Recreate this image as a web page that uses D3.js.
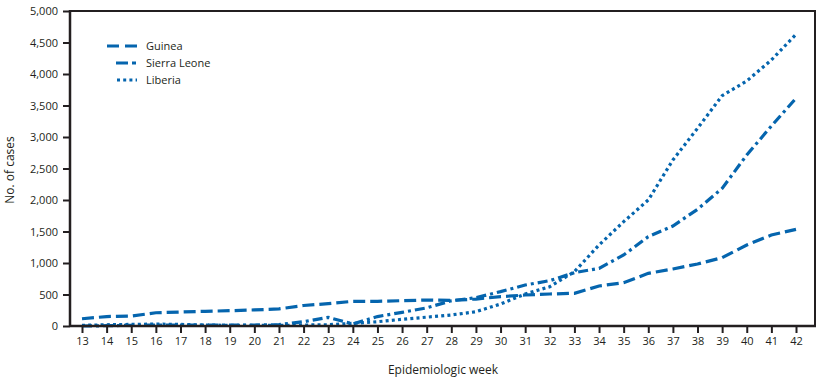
<!DOCTYPE html>
<html><head><meta charset="utf-8">
<script src="https://cdn.jsdelivr.net/npm/d3@7"></script>
<style>body{margin:0;background:#fff}svg{display:block}text{font-family:"Open Sans",sans-serif;fill:#231f20}</style>
</head><body><div id="chart"></div>
<script>
const weeks = [13,14,15,16,17,18,19,20,21,22,23,24,25,26,27,28,29,30,31,32,33,34,35,36,37,38,39,40,41,42];
const guinea = [115,150,158,210,222,233,243,255,272,325,355,392,392,402,413,405,428,466,492,508,519,635,688,836,905,984,1085,1286,1444,1534];
const sierraLeone = [0,5,10,15,15,15,15,15,22,68,138,32,150,217,288,400,450,545,650,720,847,915,1127,1418,1587,1852,2185,2714,3175,3614];
const liberia = [10,20,25,30,25,15,10,10,10,15,20,42,68,106,140,175,227,349,508,624,862,1286,1656,2000,2635,3138,3656,3889,4222,4630];
const yTicks = [0,500,1000,1500,2000,2500,3000,3500,4000,4500,5000];
const seriesNames = ["Guinea","Sierra Leone","Liberia"];

const W = 822, H = 381;
const m = {left:70, right:7, top:11, bottom:55};
const color = "#0565ae";
const dashes = ["12,5", "10,4,3,4", "3,3.2"];
const seriesData = [guinea, sierraLeone, liberia];

const svg = d3.select("#chart").append("svg").attr("width", W).attr("height", H);
const x = d3.scaleLinear().domain([13,42]).range([82,796]);
const y = d3.scaleLinear().domain([0,5000]).range([H - m.bottom, m.top]);

// frame (top and right)
svg.append("path")
  .attr("d", `M${m.left},${m.top}H${W-m.right}V${H-m.bottom}`)
  .attr("fill","none").attr("stroke","#231f20").attr("stroke-width",2);

const line = d3.line().x((d,i)=>x(weeks[i])).y(d=>y(d)).curve(d3.curveLinear);
seriesData.forEach((s,k)=>{
  svg.append("path").datum(s).attr("d", line)
    .attr("fill","none").attr("stroke",color).attr("stroke-width",3.2)
    .attr("stroke-dasharray",dashes[k]);
});

// axes
const yAxis = d3.axisLeft(y).tickValues(yTicks).tickFormat(d3.format(",")).tickSize(7).tickPadding(5);
const gy = svg.append("g").attr("transform",`translate(${m.left},0)`).call(yAxis);
const xAxis = d3.axisBottom(x).tickValues(weeks).tickFormat(d=>d).tickSize(7).tickPadding(4);
const gx = svg.append("g").attr("transform",`translate(0,${H-m.bottom})`).call(xAxis);
[gy,gx].forEach(g=>{
  g.select(".domain").remove();
  g.selectAll(".tick line").attr("stroke","#231f20").attr("stroke-width",2);
  g.selectAll(".tick text").style("font-size","11px").style("fill","#231f20");
});
// axis lines
svg.append("line").attr("x1",m.left).attr("x2",m.left).attr("y1",m.top-1).attr("y2",H-m.bottom+1)
  .attr("stroke","#231f20").attr("stroke-width",2.5);
svg.append("line").attr("x1",m.left).attr("x2",W-m.right+1).attr("y1",H-m.bottom).attr("y2",H-m.bottom)
  .attr("stroke","#231f20").attr("stroke-width",2.5);

// axis titles
svg.append("text").attr("x",443).attr("y",374).attr("text-anchor","middle").style("font-size","12px").text("Epidemiologic week");
svg.append("text").attr("transform","translate(14,170) rotate(-90)").attr("text-anchor","middle").style("font-size","12px").text("No. of cases");

// legend
const legY = [46,63,80];
const legX0 = [107,116,117];
seriesNames.forEach((n,k)=>{
  svg.append("line").attr("x1",legX0[k]).attr("x2",137).attr("y1",legY[k]).attr("y2",legY[k])
    .attr("stroke",color).attr("stroke-width",3.2)
    .attr("stroke-dasharray", k===0 ? "12,6" : (k===1 ? "12,4,4,4" : dashes[2]));
  svg.append("text").attr("x",146).attr("y",legY[k]+4).style("font-size","11px").text(n);
});
</script></body></html>
